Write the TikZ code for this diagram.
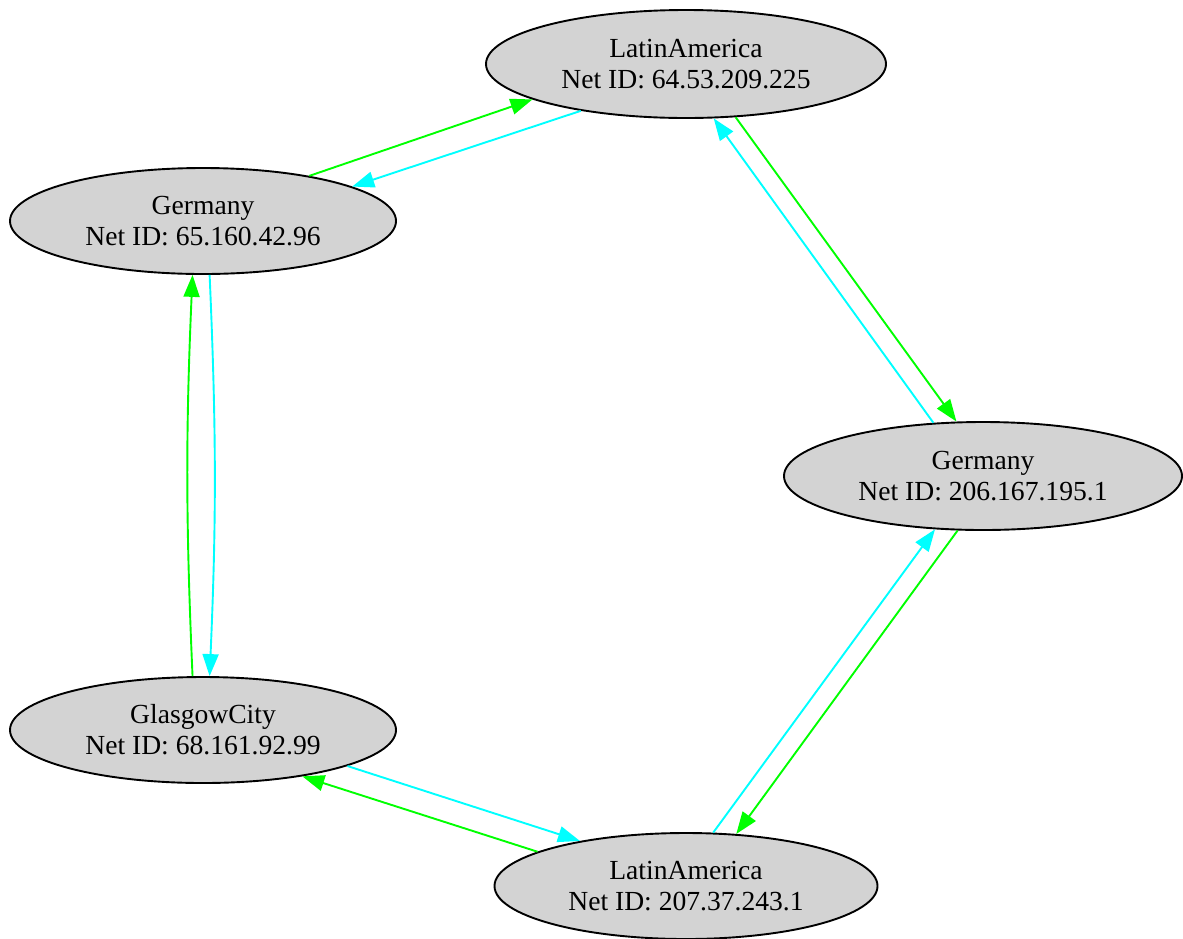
\documentclass[tikz,border=0pt]{standalone}
\usepackage{fontspec}
\setmainfont{Liberation Serif}
\usetikzlibrary{arrows.meta,shapes.geometric}
\definecolor{nodegray}{RGB}{211,211,211}
\definecolor{linkgreen}{RGB}{0,255,0}
\definecolor{linkcyan}{RGB}{0,255,255}

\begin{document}
\begin{tikzpicture}[x=0.5pt, y=-0.5pt,
    site/.style={ellipse, draw=black, line width=0.95pt, fill=nodegray, inner sep=0pt,
        align=center, font=\fontsize{13.8}{15.5}\selectfont},
    link/.style={line width=0.95pt, -{Triangle[length=11pt,width=8pt]}},
    fwd/.style={link, linkgreen},
    back/.style={link, linkcyan}]
    \useasboundingbox (0,0) rectangle (1183,938);

    % 网络节点
    \node[site, minimum width=200pt, minimum height=54pt] (latamA) at (686,64) {LatinAmerica\\Net ID: 64.53.209.225};
    \node[site, minimum width=193pt, minimum height=53pt] (gerA) at (203,221) {Germany\\Net ID: 65.160.42.96};
    \node[site, minimum width=199pt, minimum height=54pt] (gerB) at (983,476) {Germany\\Net ID: 206.167.195.1};
    \node[site, minimum width=193pt, minimum height=53pt] (glasgow) at (203,730) {GlasgowCity\\Net ID: 68.161.92.99};
    \node[site, minimum width=191.5pt, minimum height=53pt] (latamB) at (686,886) {LatinAmerica\\Net ID: 207.37.243.1};

    % 连接（绿色去程，青色回程）
    \draw[fwd] (gerA.23) -- (latamA.193);
    \draw[back] (latamA.204) -- (gerA.13);
    \draw[fwd] (latamA.-47) -- (gerB.116);
    \draw[back] (gerB.133) -- (latamA.-63);
    \draw[fwd] (gerB.-115) -- (latamB.46);
    \draw[back] (latamB.63) -- (gerB.-132);
    \draw[fwd] (latamB.167) -- (glasgow.-25);
    \draw[back] (glasgow.-14) -- (latamB.157);
    \draw[fwd] (glasgow.101) to[bend left=2.5] (gerA.-101);
    \draw[back] (gerA.-83) to[bend left=2.5] (glasgow.83);
\end{tikzpicture}
\end{document}
